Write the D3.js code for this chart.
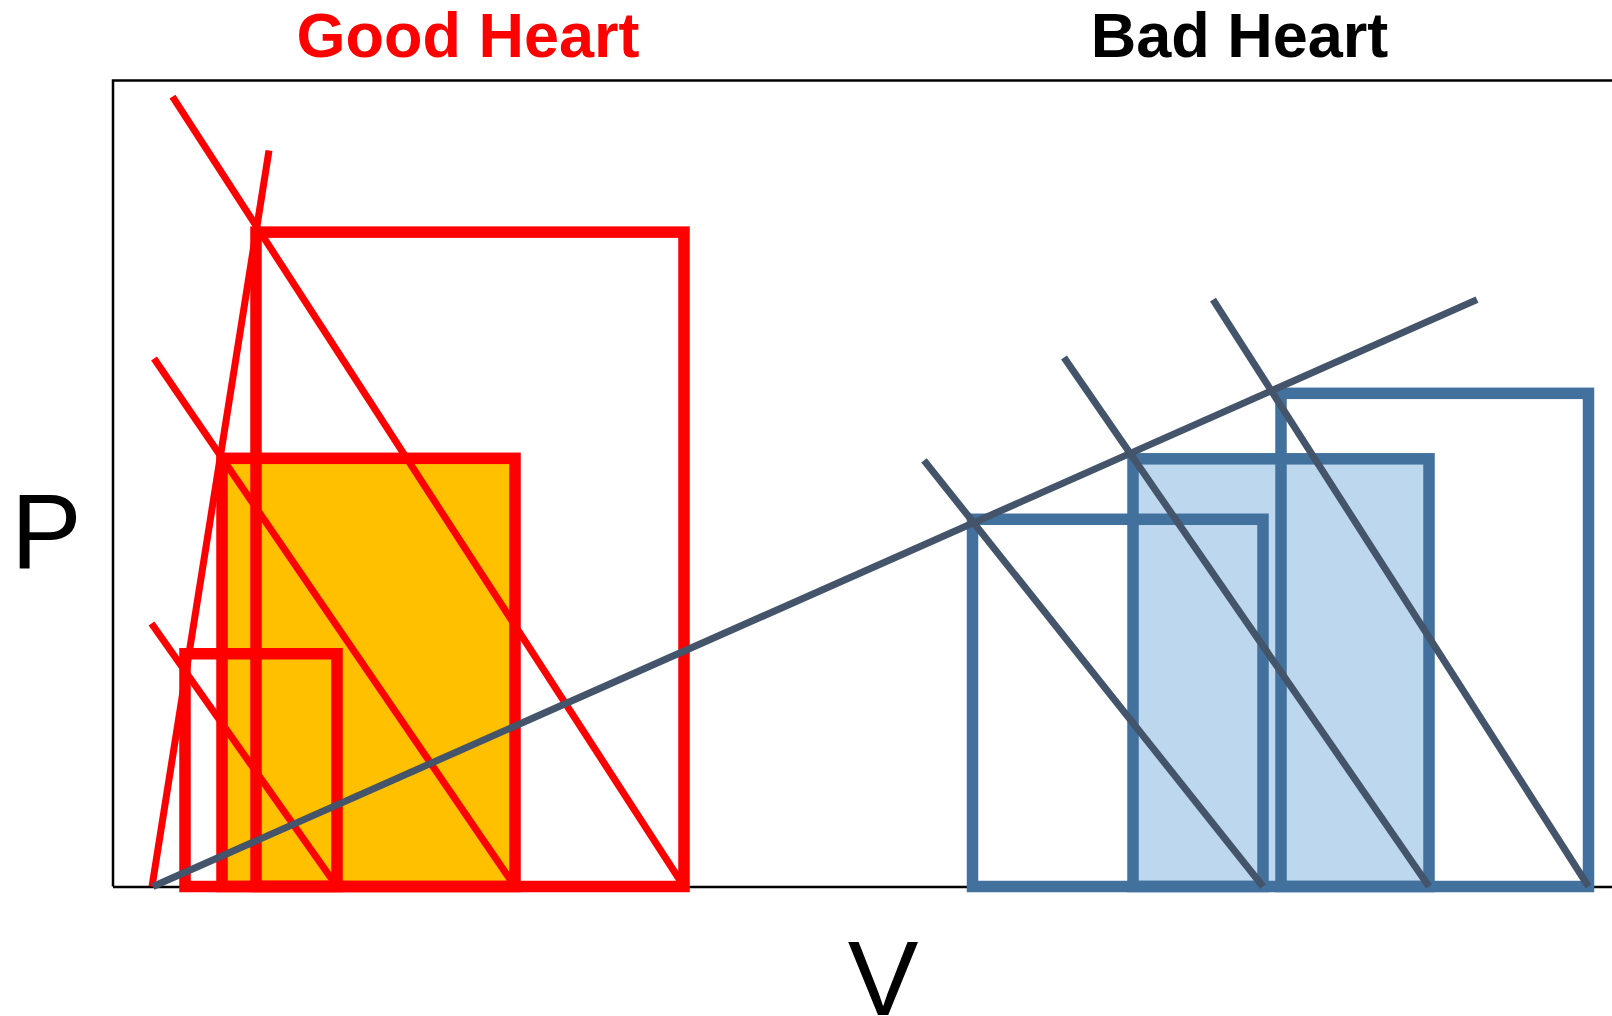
<!DOCTYPE html>
<html>
<head>
<meta charset="utf-8">
<script src="https://cdn.jsdelivr.net/npm/d3@7"></script>
<style>
  html, body { margin: 0; padding: 0; background: #fff; }
  svg { display: block; }
</style>
</head>
<body>
<div id="chart"></div>
<script>
// good heart: three PV loops (end-systolic volume, end-diastolic volume, end-systolic pressure)
const goodESV = [28.6, 21.8, 14.4];
const goodEDV = [114.2, 80.4, 44.8];
const goodESP = [129.9, 85.0, 46.2];
// top ends of the arterial elastance lines
const goodEaTop = [[11.9, 156.8], [8.2, 104.8], [7.7, 52.2]];
const goodESPVR = [[7.8, 0], [31.2, 146.1]];

// bad heart
const badESV = [171.9, 204.0, 233.6];
const badEDV = [230.0, 263.2, 295.1];
const badESP = [72.9, 84.9, 97.9];
const badEaTop = [[162.2, 84.6], [190.2, 105.0], [220.0, 116.5]];
const badESPVR = [[8, 0], [272.8, 116.5]];

const titles = ["Good Heart", "Bad Heart"];
const axisLabels = ["P", "V"];

const width = 1612;
const height = 1016;

const svg = d3.select("#chart")
    .append("svg")
    .attr("width", width)
    .attr("height", height)
    .style("font-family", "'Liberation Sans', Arial, sans-serif");

const x = d3.scaleLinear().domain([0, 300]).range([113, 1613]);
const y = d3.scaleLinear().domain([0, 160]).range([886.5, 80.5]);

const line = d3.line().x(d => x(d[0])).y(d => y(d[1]));

// frame (left, top, bottom; runs off on the right)
svg.append("path")
    .attr("d", `M${x(0)},${y(0)} V${y(160)} H${width}`)
    .attr("fill", "none")
    .attr("stroke", "#000")
    .attr("stroke-width", 2.5);
svg.append("line")
    .attr("x1", x(0)).attr("x2", width)
    .attr("y1", y(0) + 0.5).attr("y2", y(0) + 0.5)
    .attr("stroke", "#000")
    .attr("stroke-width", 2.5);

function loops(esv, edv, esp) {
    return esv.map((v, i) => ({ i, esv: v, edv: edv[i], esp: esp[i] }));
}

function drawHeart(data, filledIndex, fillColor, strokeColor, eaTop, espvr, lineColor, espvrColor) {
    const g = svg.append("g");

    // fills first
    g.selectAll(".fill")
        .data(data.filter(d => d.i === filledIndex))
        .enter()
        .append("rect")
        .attr("x", d => x(d.esv))
        .attr("y", d => y(d.esp))
        .attr("width", d => x(d.edv) - x(d.esv))
        .attr("height", d => y(0) - y(d.esp))
        .attr("fill", fillColor);

    // then the loop outlines
    g.selectAll(".loop")
        .data(data)
        .enter()
        .append("rect")
        .attr("x", d => x(d.esv))
        .attr("y", d => y(d.esp))
        .attr("width", d => x(d.edv) - x(d.esv))
        .attr("height", d => y(0) - y(d.esp))
        .attr("fill", "none")
        .attr("stroke", strokeColor)
        .attr("stroke-width", 11.5);

    // arterial elastance lines
    g.selectAll(".ea")
        .data(data)
        .enter()
        .append("path")
        .attr("d", d => line([eaTop[d.i], [d.edv, 0]]))
        .attr("fill", "none")
        .attr("stroke", lineColor)
        .attr("stroke-width", 7);

    return () => svg.append("path")
        .attr("d", line(espvr))
        .attr("fill", "none")
        .attr("stroke", espvrColor)
        .attr("stroke-width", 7);
}

const goodESPVRLine = drawHeart(loops(goodESV, goodEDV, goodESP), 1, "#FFC000", "#FF0000",
    goodEaTop, goodESPVR, "#FF0000", "#FF0000");
goodESPVRLine();
const badESPVRLine = drawHeart(loops(badESV, badEDV, badESP), 1, "#BDD7EE", "#41719C",
    badEaTop, badESPVR, "#44546A", "#44546A");
badESPVRLine();

// titles
svg.append("text")
    .attr("x", 468)
    .attr("y", 57)
    .attr("text-anchor", "middle")
    .attr("font-size", "63px")
    .attr("font-weight", "bold")
    .attr("fill", "#FF0000")
    .text(titles[0]);

svg.append("text")
    .attr("x", 1239.5)
    .attr("y", 57)
    .attr("text-anchor", "middle")
    .attr("font-size", "63px")
    .attr("font-weight", "bold")
    .attr("fill", "#000")
    .text(titles[1]);

// axis labels
svg.append("text")
    .attr("x", 11)
    .attr("y", 568)
    .attr("font-size", "106px")
    .attr("fill", "#000")
    .text(axisLabels[0]);

svg.append("text")
    .attr("x", 883)
    .attr("y", 1015)
    .attr("text-anchor", "middle")
    .attr("font-size", "106px")
    .attr("fill", "#000")
    .text(axisLabels[1]);
</script>
</body>
</html>
